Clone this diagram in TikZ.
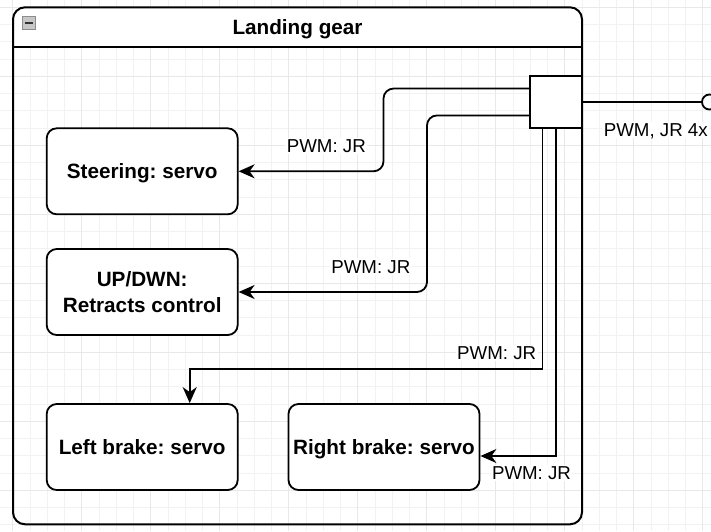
\documentclass[tikz,border=0pt]{standalone}
\usepackage{fontspec}
\setmainfont{Liberation Sans}
\usetikzlibrary{arrows.meta,calc}
\frenchspacing

\tikzset{
  gridminor/.style={draw=black!5, line width=0.9pt},
  gridmajor/.style={draw=black!9, line width=0.9pt},
  part/.style={draw=black, line width=1.8pt, fill=white, rounded corners=10pt,
    minimum width=191pt, minimum height=86pt, inner sep=0pt, align=center,
    font=\fontsize{20.7pt}{26pt}\selectfont\bfseries},
  oneline/.style={text height=14.8pt, text depth=0pt},
  wire/.style={draw=black, line width=1.8pt, -{Stealth[length=16pt,width=14pt,inset=5pt]}},
  sig/.style={font=\fontsize{18.7pt}{22pt}\selectfont, text height=13.4pt,
    text depth=0pt, inner sep=1.5pt, fill=white},
}

\begin{document}
\begin{tikzpicture}[x=1pt,y=-1pt]
\useasboundingbox (0,0) rectangle (711,531);
\fill[white] (0,0) rectangle (711,531);

% background grid
\foreach \i in {-1,...,39}
  \draw[gridminor] ({30+17.25*\i},0) -- ({30+17.25*\i},531);
\foreach \j in {-1,...,30}
  \draw[gridminor] (0,{7.3+17.25*\j}) -- (711,{7.3+17.25*\j});
\foreach \i in {-1,...,9}
  \draw[gridmajor] ({81.75+69*\i},0) -- ({81.75+69*\i},531);
\foreach \j in {0,...,7}
  \draw[gridmajor] (0,{7.3+69*\j}) -- (711,{7.3+69*\j});

% container with title bar
\begin{scope}
  \clip[rounded corners=12pt] (13,7.3) rectangle (582,524.3);
  \fill[white] (13,7.3) rectangle (582,47.3);
\end{scope}
\node[draw=black, line width=2pt, rounded corners=12pt, minimum width=569pt,
  minimum height=517pt, inner sep=0pt] (lg) at (297.5,265.8) {};
\coordinate (hsep) at (0,47.3);
\draw[line width=2pt] (lg.west |- hsep) -- (lg.east |- hsep);
\node[draw=black!45, fill=black!22, line width=0.8pt, minimum size=13pt,
  inner sep=0pt] (fold) at (28.7,22.8) {};
\draw[line width=2pt, black!80] ([xshift=3pt]fold.west) -- ([xshift=-3pt]fold.east);
\node[font=\fontsize{20.7pt}{26pt}\selectfont\bfseries, oneline, inner sep=0pt]
  (title) at (297.5,26.8) {Landing gear};

% devices
\node[part, oneline] (steer) at (142.2,171.3) {Steering: servo};
\node[part] (retract) at (142.2,292) {UP/DWN:\\Retracts control};
\node[part, oneline] (lbrake) at (142.2,447) {Left brake: servo};
\node[part, oneline] (rbrake) at (384,447) {Right brake: servo};

% junction and external port
\node[draw=black, line width=1.8pt, fill=white, minimum size=52pt, inner sep=0pt]
  (jb) at (556,102) {};
\node[circle, draw=black, line width=1.8pt, fill=white, minimum size=15pt,
  inner sep=0pt] (port) at (709.5,102) {};
\draw[line width=1.8pt] (jb.east) -- (port.west);

% wiring
\coordinate (p1) at ($(jb.north west)!0.25!(jb.south west)$);
\coordinate (p2) at ($(jb.north west)!0.75!(jb.south west)$);
\coordinate (p3) at ($(jb.south west)!0.25!(jb.south east)$);
\coordinate (p4) at (jb.south);
\coordinate (v1) at (383.5,0);
\coordinate (v2) at (427,0);
\coordinate (h3) at (0,369);
\coordinate (t3) at ([xshift=47.5pt]lbrake.north);
\coordinate (t4) at ([yshift=-9pt]rbrake.east);

\draw[wire, rounded corners=10pt] (p1) -| (v1 |- steer.east) -- (steer.east);
\draw[wire, rounded corners=10pt] (p2) -| (v2 |- retract.east) -- (retract.east);
\draw[wire] (p3) -- (p3 |- h3) -| (t3);
\draw[wire] (p4) |- (t4);

% signal labels
\node[sig] (l1) at (326.3,145.7) {PWM: JR};
\node[sig] (l2) at (370.8,266.5) {PWM: JR};
\node[sig] (l3) at (496.7,352.7) {PWM: JR};
\node[sig] (l4) at (531.5,473) {PWM: JR};
\node[sig] (l5) at (655.8,130) {PWM, JR 4x};
\end{tikzpicture}
\end{document}
